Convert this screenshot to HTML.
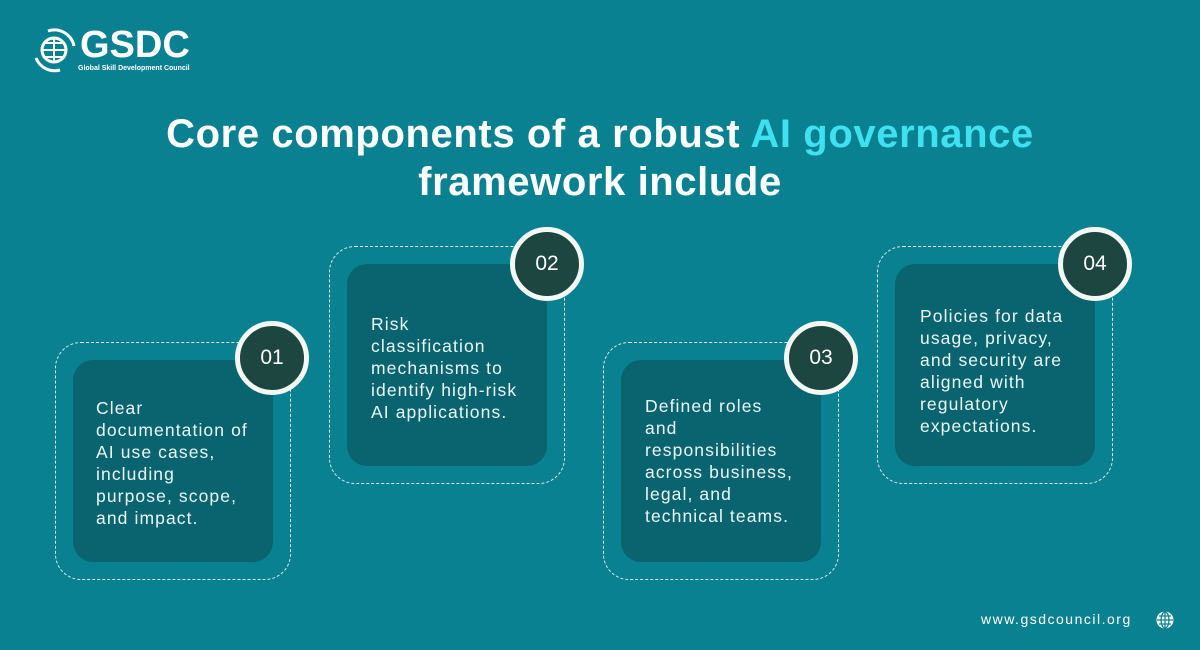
<!DOCTYPE html>
<html><head><meta charset="utf-8"><style>
*{margin:0;padding:0;box-sizing:border-box}
body{width:1200px;height:650px;background:#0a8191;font-family:"Liberation Sans",sans-serif;position:relative;overflow:hidden;color:#fff}
.outer{position:absolute;width:236px;height:238px;border:1.5px dashed #d8eef0;border-radius:26px}
.inner{position:absolute;width:200px;height:202px;background:#0a6470;border-radius:20px}
.txt{position:absolute;font-size:17.5px;line-height:22px;letter-spacing:1.1px;color:#eaf6f6;white-space:nowrap}
.circ{position:absolute;width:74px;height:74px;border-radius:50%;background:#1c463f;border:5px solid #f4f8f5;font-size:21px;display:flex;align-items:center;justify-content:center;color:#fff}
h1{position:absolute;left:0;width:1200px;top:110px;text-align:center;font-size:40px;line-height:48px;font-weight:bold;letter-spacing:0.6px}
h1 span{color:#3fe0f0}
</style></head><body>
<svg style="position:absolute;left:30px;top:28px" width="50" height="46" viewBox="0 0 50 46">
<circle cx="24" cy="22" r="12" fill="none" stroke="#fff" stroke-width="3"/>
<path d="M12 22h24M24 10v24M14 15h20M14 29h20" stroke="#fff" stroke-width="2"/>
<path d="M6 30 A20 20 0 0 0 30 42" fill="none" stroke="#fff" stroke-width="3"/>
<path d="M18 3 A20 20 0 0 1 44 18" fill="none" stroke="#fff" stroke-width="3"/>
</svg>
<div style="position:absolute;left:80px;top:24px;font-size:38px;font-weight:bold;letter-spacing:0px;line-height:42px">GSDC</div>
<div style="position:absolute;left:78px;top:65px;font-size:7px;font-weight:bold">Global Skill Development Council</div>
<h1>Core components of a robust <span>AI governance</span><br>framework include</h1>

<div class="outer" style="left:55px;top:342px"></div>
<div class="inner" style="left:73px;top:360px"></div>
<div class="txt" style="left:96px;top:397px">Clear<br>documentation of<br>AI use cases,<br>including<br>purpose, scope,<br>and impact.</div>
<div class="circ" style="left:235px;top:321px">01</div>

<div class="outer" style="left:329px;top:246px"></div>
<div class="inner" style="left:347px;top:264px"></div>
<div class="txt" style="left:371px;top:313px">Risk<br>classification<br>mechanisms to<br>identify high-risk<br>AI applications.</div>
<div class="circ" style="left:510px;top:227px">02</div>

<div class="outer" style="left:603px;top:342px"></div>
<div class="inner" style="left:621px;top:360px"></div>
<div class="txt" style="left:645px;top:395px">Defined roles<br>and<br>responsibilities<br>across business,<br>legal, and<br>technical teams.</div>
<div class="circ" style="left:784px;top:321px">03</div>

<div class="outer" style="left:877px;top:246px"></div>
<div class="inner" style="left:895px;top:264px"></div>
<div class="txt" style="left:920px;top:305px">Policies for data<br>usage, privacy,<br>and security are<br>aligned with<br>regulatory<br>expectations.</div>
<div class="circ" style="left:1058px;top:227px">04</div>

<div style="position:absolute;left:981px;top:611px;font-size:14px;letter-spacing:1.5px">www.gsdcouncil.org</div>
<svg style="position:absolute;left:1156px;top:611px" width="18" height="18" viewBox="0 0 18 18"><circle cx="9" cy="9" r="8.5" fill="#fff"/><path d="M1 9h16M9 1v16M3 5h12M3 13h12" stroke="#0a8191" stroke-width="1.3"/><ellipse cx="9" cy="9" rx="4" ry="8" fill="none" stroke="#0a8191" stroke-width="1.3"/></svg>
</body></html>
